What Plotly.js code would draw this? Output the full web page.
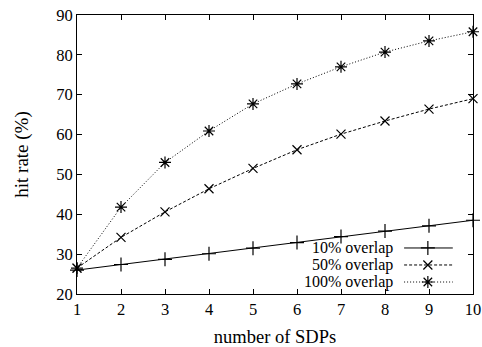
<!DOCTYPE html>
<html><head><meta charset="utf-8">
<script src="https://cdn.plot.ly/plotly-3.0.1.min.js"></script>
<style>html,body{margin:0;padding:0;background:#fff}#chart{width:482px;height:347px}</style>
</head><body><div id="chart"></div>
<script>
const sdps = [1,2,3,4,5,6,7,8,9,10];
const overlap10 = [26.0,27.4,28.7,30.1,31.5,32.9,34.4,35.8,37.1,38.5];
const overlap50 = [26.5,34.2,40.6,46.4,51.5,56.2,60.1,63.4,66.4,69.0];
const overlap100 = [26.5,41.8,53.0,60.9,67.7,72.7,77.0,80.7,83.5,85.8];
const seriesNames = ['10% overlap','50% overlap','100% overlap'];
const xTicks = [1,2,3,4,5,6,7,8,9,10];
const yTicks = [20,30,40,50,60,70,80,90];

const FONT = 'Liberation Serif, Times New Roman, serif';
const styles = [
  {dash:'solid', symbol:'cross-thin-open', size:10},
  {dash:'3px,2px', symbol:'x-thin-open', size:9},
  {dash:'1px,2px', symbol:'asterisk-open', size:10}
];
const allY = [overlap10, overlap50, overlap100];
const traces = [];
allY.forEach((ys,i)=>{
  traces.push({x:sdps, y:ys, type:'scatter', mode:'lines+markers', name:seriesNames[i],
    line:{color:'#000', width:1, dash:styles[i].dash},
    marker:{symbol:styles[i].symbol, size:styles[i].size, color:'#000', line:{color:'#000', width:1.2}},
    showlegend:false, cliponaxis:false});
});
// custom legend (text right, sample on right), in a hidden 0..1 overlay axis
const legY = [0.165, 0.104, 0.043];
const legX0 = 0.826, legX1 = 0.949, legXm = 0.886, legTextX = 0.80;
const annotations = [];
allY.forEach((ys,i)=>{
  traces.push({x:[legX0,legX1], y:[legY[i],legY[i]], xaxis:'x2', yaxis:'y2', type:'scatter', mode:'lines',
    line:{color:'#000', width:1, dash:styles[i].dash}, showlegend:false, hoverinfo:'skip'});
  traces.push({x:[legXm], y:[legY[i]], xaxis:'x2', yaxis:'y2', type:'scatter', mode:'markers',
    marker:{symbol:styles[i].symbol, size:styles[i].size, color:'#000', line:{color:'#000', width:1.2}},
    showlegend:false, hoverinfo:'skip'});
  annotations.push({xref:'paper', yref:'paper', x:legTextX, y:legY[i], xanchor:'right', yanchor:'middle',
    text:seriesNames[i], showarrow:false, borderpad:0, font:{family:FONT, size:16, color:'#000'}});
});

const axisCommon = {showgrid:false, zeroline:false, showline:true, linecolor:'#000', linewidth:1,
  mirror:'allticks', ticks:'inside', ticklen:5, tickcolor:'#000', tickwidth:1,
  tickfont:{family:FONT, size:16.5, color:'#000'}};
const layout = {
  width:482, height:347, margin:{l:77, r:9, t:15, b:53},
  paper_bgcolor:'#fff', plot_bgcolor:'#fff',
  xaxis:Object.assign({}, axisCommon, {range:[1,10], tickvals:xTicks, ticktext:xTicks.map(String),
    title:{text:'number of SDPs', font:{family:FONT, size:18.5, color:'#000'}, standoff:17}}),
  yaxis:Object.assign({}, axisCommon, {range:[20,90], tickvals:yTicks, ticktext:yTicks.map(String),
    title:{text:'hit rate (%)', font:{family:FONT, size:19, color:'#000'}, standoff:22}}),
  xaxis2:{overlaying:'x', range:[0,1], visible:false, fixedrange:true},
  yaxis2:{overlaying:'y', range:[0,1], visible:false, fixedrange:true},
  annotations:annotations,
  showlegend:false
};
Plotly.newPlot('chart', traces, layout, {staticPlot:true});
</script></body></html>
